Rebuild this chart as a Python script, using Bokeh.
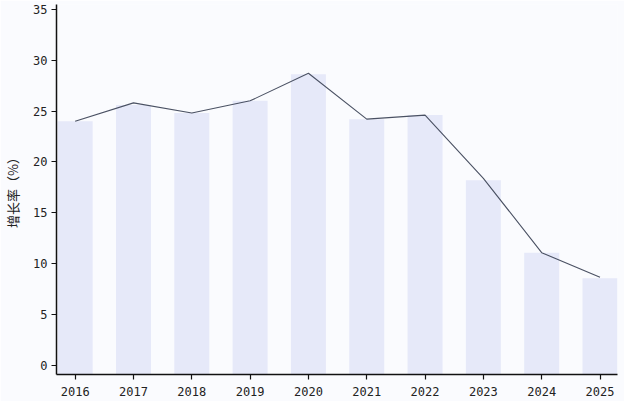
from bokeh.plotting import figure
from bokeh.models import FixedTicker, Range1d
from bokeh.embed import file_html
from bokeh.resources import INLINE

years = [2016, 2017, 2018, 2019, 2020, 2021, 2022, 2023, 2024, 2025]
bar_values = [24.0, 25.6, 24.8, 26.0, 28.6, 24.2, 24.6, 18.2, 11.1, 8.6]
line_values = [24.0, 25.8, 24.8, 26.0, 28.7, 24.2, 24.6, 18.4, 11.1, 8.7]
y_ticks = [0, 5, 10, 15, 20, 25, 30, 35]
y_label = "增长率（%）"

y0, y1 = -0.85, 35.45

p = figure(width=624, height=401, output_backend="svg", toolbar_location=None,
           x_range=Range1d(2015.68, 2025.3), y_range=Range1d(y0, y1),
           min_border_left=44, min_border_right=7, min_border_top=4, min_border_bottom=27)

p.vbar(x=years, top=bar_values, bottom=y0, width=0.6, fill_color="#e6e9f9", line_color=None)
p.line(years, line_values, line_color="#4a5163", line_width=1.1)

p.background_fill_color = "#fafbfe"
p.border_fill_color = "#fafbfe"
p.outline_line_color = None
p.grid.visible = False

for ax in (p.xaxis, p.yaxis):
    ax.axis_line_color = "#111111"
    ax.axis_line_width = 1.5
    ax.major_tick_line_color = "#111111"
    ax.major_tick_line_width = 1.2
    ax.major_tick_out = 5
    ax.major_tick_in = 0
    ax.minor_tick_line_color = None
    ax.major_label_text_font = "DejaVu Sans Mono"
    ax.major_label_text_font_size = "12px"
    ax.major_label_text_color = "#222222"

p.xaxis.ticker = FixedTicker(ticks=years)
p.yaxis.ticker = FixedTicker(ticks=y_ticks)
p.xaxis.major_label_standoff = 7
p.yaxis.major_label_standoff = 4
p.yaxis.axis_label = y_label
p.yaxis.axis_label_text_font = "Noto Sans CJK SC"
p.yaxis.axis_label_text_font_style = "normal"
p.yaxis.axis_label_text_font_size = "13px"
p.yaxis.axis_label_text_color = "#222222"
p.yaxis.axis_label_standoff = 8

open("out.html", "w").write(file_html(p, INLINE))
